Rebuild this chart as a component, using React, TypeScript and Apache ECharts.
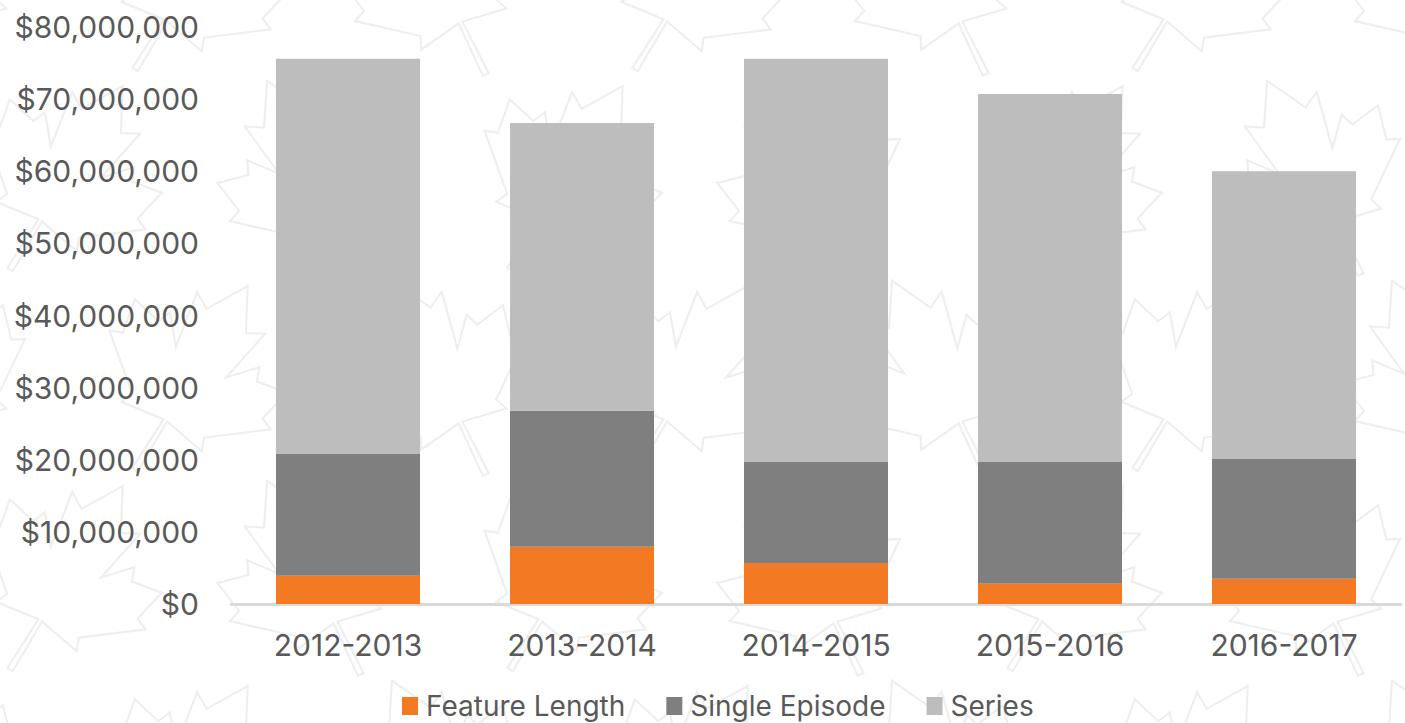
import React, { useEffect, useRef } from "react";
import * as echarts from "echarts";

const categories = ["2012-2013", "2013-2014", "2014-2015", "2015-2016", "2016-2017"];
const featureLength = [3900000, 7950000, 5700000, 2800000, 3500000];
const singleEpisode = [16900000, 18850000, 14000000, 16900000, 16600000];
const seriesValues = [54800000, 39900000, 55900000, 51000000, 39900000];

const FONT = "Inter, 'Liberation Sans', Arial, sans-serif";
const TEXT = "#595959";

const leafPoints: number[][] = [
  [-3, 100], [-2, 45], [-45, 52], [-40, 40], [-90, 0], [-78, -5], [-85, -38],
  [-55, -32], [-50, -45], [-28, -20], [-38, -75], [-22, -66], [0, -105],
  [22, -66], [38, -75], [28, -20], [50, -45], [55, -32], [85, -38], [78, -5],
  [90, 0], [40, 40], [45, 52], [2, 45], [3, 100],
];

function buildLeaves() {
  const out: any[] = [];
  let r = 0;
  for (let y = -20; y < 820; y += 200) {
    const off = r % 2 === 0 ? 0 : 125;
    let c = 0;
    for (let x = -60 + off; x < 1500; x += 250) {
      const rot = (r + c) % 2 === 0 ? 0.45 : -0.55;
      out.push({
        type: "polygon",
        x,
        y,
        rotation: rot,
        scaleX: 1.05,
        scaleY: 1.05,
        z: -10,
        silent: true,
        shape: { points: leafPoints },
        style: { fill: "none", stroke: "#EEEEEE", lineWidth: 2 },
      });
      c++;
    }
    r++;
  }
  return out;
}

export default function App() {
  const ref = useRef<HTMLDivElement>(null);
  useEffect(() => {
    if (!ref.current) return;
    const chart = echarts.init(ref.current, undefined, { renderer: "svg" });
    chart.setOption({
      animation: false,
      backgroundColor: "#ffffff",
      graphic: { elements: buildLeaves() },
      grid: { left: 231, right: 4, top: 27, bottom: 119, containLabel: false },
      legend: {
        data: ["Feature Length", "Single Episode", "Series"],
        left: 397,
        top: 686,
        itemWidth: 16,
        itemHeight: 18,
        itemGap: 41,
        icon: "rect",
        textStyle: { color: TEXT, fontSize: 28, lineHeight: 30, fontFamily: FONT, padding: [0, 0, 0, 3] },
      },
      xAxis: {
        type: "category",
        data: categories,
        axisLine: { lineStyle: { color: "#D9D9D9", width: 3 } },
        axisTick: { show: false },
        axisLabel: { color: TEXT, fontSize: 30, fontFamily: FONT, margin: 26 },
      },
      yAxis: {
        type: "value",
        min: 0,
        max: 80000000,
        interval: 10000000,
        axisLine: { show: false },
        axisTick: { show: false },
        splitLine: { show: false },
        axisLabel: {
          color: TEXT,
          fontSize: 30,
          fontFamily: FONT,
          margin: 32,
          formatter: (v: number) => "$" + v.toLocaleString("en-US"),
        },
      },
      series: [
        { name: "Feature Length", type: "bar", stack: "total", data: featureLength, barWidth: 144, itemStyle: { color: "#F37A22" } },
        { name: "Single Episode", type: "bar", stack: "total", data: singleEpisode, barWidth: 144, itemStyle: { color: "#7F7F7F" } },
        { name: "Series", type: "bar", stack: "total", data: seriesValues, barWidth: 144, itemStyle: { color: "#BDBDBD" } },
      ],
    });
    return () => chart.dispose();
  }, []);
  return (
    <div
      ref={ref}
      style={{ position: "fixed", left: 0, top: 0, width: 1405, height: 723 }}
    />
  );
}
